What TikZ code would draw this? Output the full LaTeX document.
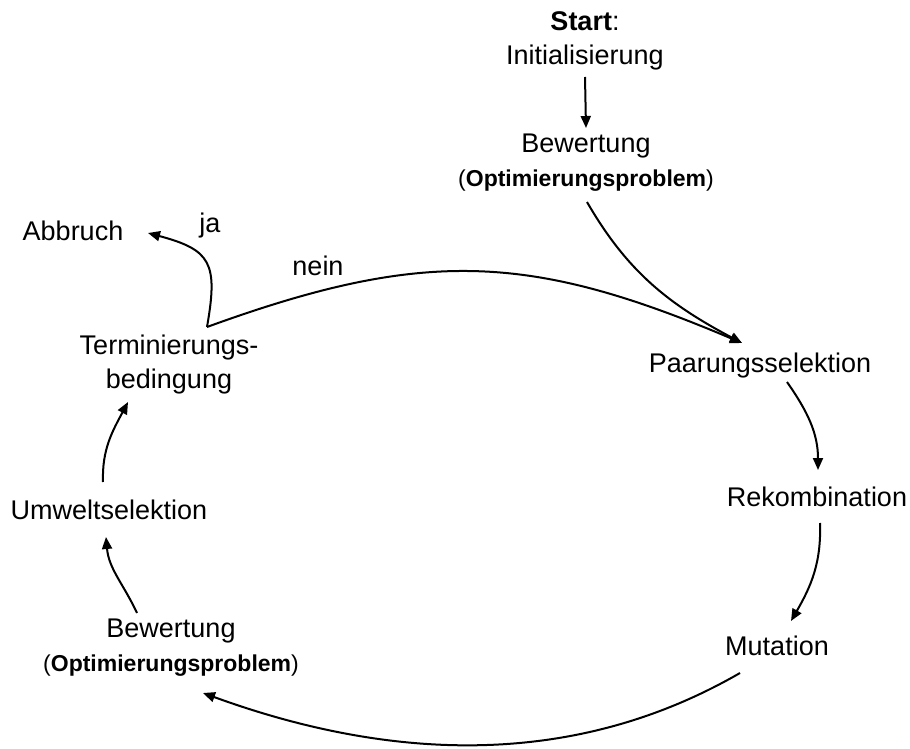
\documentclass[tikz,border=0pt]{standalone}
\usepackage{fontspec}
\setmainfont{Liberation Sans}
\usetikzlibrary{arrows.meta, calc}

\tikzset{
  lbl/.style={inner sep=0pt, align=center, font=\fontsize{13.5}{17}\selectfont},
}
\newcommand{\optprob}{{\fontsize{11.5}{14}\selectfont(\textbf{Optimierungsproblem})}}

\begin{document}
\begin{tikzpicture}[x=0.5pt, y=-0.5pt, >={Triangle[length=6pt, width=5pt]}, every node/.style=lbl]
      \useasboundingbox (0,0) rectangle (910,749);

      \node (init) at (585,41)  {\textbf{Start}:\\Initialisierung};
      \node (bew1) at (586,163) {Bewertung\\\optprob};
      \node (paar) at (760,366) {Paarungsselektion};
      \node (rek)  at (817,497) {Rekombination};
      \node (mut)  at (777,646) {Mutation};
      \node (bew2) at (171,648) {Bewertung\\\optprob};
      \node (umw)  at (109,510) {Umweltselektion};
      \node (term) at (169,365) {Terminierungs-\\bedingung};
      \node (abb)  at (73,231)  {Abbruch};
      \node (ja)   at (210,226) {ja};
      \node (nein) at (318,266) {nein};

      \path[->, line width=1pt]
        ($(init)+(0,36)$) edge ($(bew1)+(0,-35)$)
        ($(bew1)+(1,39)$) edge [out=-60, in=152] ($(paar)+(-18,-23)$)
        ($(term)+(38,-38)$) edge [out=20, in=157, looseness=1.1] ($(paar)+(-18,-23)$)
        ($(term)+(38,-38)$) edge [out=80, in=-15, looseness=1.5] ($(abb)+(75,2)$)
        ($(paar)+(27,16)$) edge [out=-55, in=90] ($(rek)+(1,-27)$)
        ($(rek)+(3,26)$) edge [out=-88, in=60] ($(mut)+(14,-25)$)
        ($(mut)+(-37,27)$) edge [out=-150, in=-20, looseness=0.93] ($(bew2)+(32,45)$)
        ($(bew2)+(-34,-35)$) edge [out=115, in=-85] ($(umw)+(-3,27)$)
        ($(umw)+(-6,-28)$) edge [out=92, in=-118] ($(term)+(-41,37)$)
      ;
    \end{tikzpicture}
\end{document}
